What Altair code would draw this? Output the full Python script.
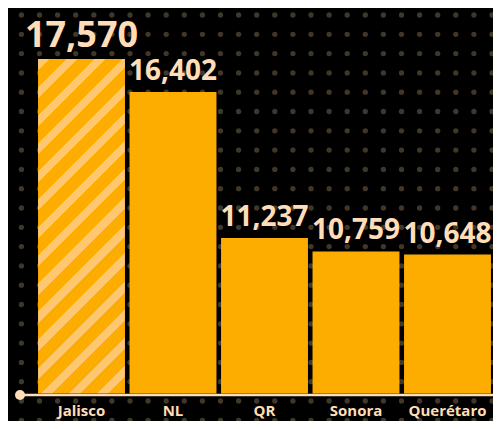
import altair as alt
import pandas as pd

states = ["Jalisco", "NL", "QR", "Sonora", "Querétaro"]
values = [17570, 16402, 11237, 10759, 10648]
highlight = ["Jalisco"]

df = pd.DataFrame({"state": states, "value": values})
df["label"] = df["value"].map(lambda v: f"{v:,}")

BG = "#000000"
BAR = "#FDAD00"
STRIPE = "#FFC870"
PEACH = "#FFDDB8"
DOT = "#413729"
FONT = "Open Sans"

W, H = 485, 413
BASE_Y = 386
BASE_VALUE = 5731  # value at which the bars sit on the baseline

xscale = alt.Scale(domain=states, range=[27.75, 485.25], paddingInner=0.05, paddingOuter=0.025)
yscale = alt.Scale(domain=[4758, 19377], zero=False, nice=False)

# diagonal stripes via hard-stop gradient
stops = []
n = 15
for i in range(n):
    a = i / n
    b = (i + 0.4) / n
    c = (i + 1) / n
    stops += [alt.GradientStop(offset=a, color=STRIPE), alt.GradientStop(offset=b, color=STRIPE),
              alt.GradientStop(offset=b, color=BAR), alt.GradientStop(offset=c, color=BAR)]
grad = alt.LinearGradient(gradient="linear", stops=stops, x1=0, y1=0, x2=0.3066, y2=1.18)

base = alt.Chart(df)

dots = alt.Chart(alt.sequence(0, 28 * 22, as_="i")).transform_calculate(
    col="datum.i % 28", row="floor(datum.i / 28)"
).mark_circle(size=28, color=DOT, opacity=1).encode(
    x=alt.X("col:Q", scale=alt.Scale(domain=[0.2597, 27.055], nice=False, zero=False), axis=None),
    y=alt.Y("row:Q", scale=alt.Scale(domain=[-0.3627, 21.036], nice=False, zero=False, reverse=True), axis=None),
)

bars = base.transform_filter(
    ~alt.FieldOneOfPredicate(field="state", oneOf=highlight)
).mark_bar(color=BAR).encode(
    x=alt.X("state:N", scale=xscale, axis=None, sort=states),
    y=alt.Y("value:Q", scale=yscale, axis=None),
    y2=alt.datum(BASE_VALUE),
)

hbar = base.transform_filter(
    alt.FieldOneOfPredicate(field="state", oneOf=highlight)
).mark_bar(fill=grad).encode(
    x=alt.X("state:N", scale=xscale, axis=None, sort=states),
    y=alt.Y("value:Q", scale=yscale, axis=None),
    y2=alt.datum(BASE_VALUE),
)

axis_line = alt.Chart(pd.DataFrame({"a": [0]})).mark_rule(color=PEACH, strokeWidth=2.5).encode(
    x=alt.value(12), x2=alt.value(W), y=alt.value(BASE_Y + 1)
)
axis_dot = alt.Chart(pd.DataFrame({"a": [0]})).mark_circle(color=PEACH, size=100, opacity=1).encode(
    x=alt.value(12), y=alt.value(BASE_Y + 1)
)

xlabels = base.mark_text(font=FONT, fontWeight="bold", fontSize=15, color=PEACH, baseline="middle").encode(
    x=alt.X("state:N", scale=xscale, axis=None, sort=states),
    y=alt.value(403),
    text="state:N",
)

vlabels = base.mark_text(font=FONT, fontWeight="bold", color=PEACH, baseline="alphabetic", dy=-12).encode(
    x=alt.X("state:N", scale=xscale, axis=None, sort=states),
    y=alt.Y("value:Q", scale=yscale, axis=None),
    text="label:N",
    size=alt.condition(alt.FieldOneOfPredicate(field="state", oneOf=highlight), alt.value(36), alt.value(28)),
)

chart = alt.layer(dots, bars, hbar, axis_line, axis_dot, xlabels, vlabels).resolve_scale(
    x="independent", y="independent"
).properties(
    width=W, height=H, padding=0, autosize=alt.AutoSizeParams(type="none"), background=BG
).configure_view(stroke=None, fill=BG)

chart.save("out.html", embed_options={"renderer": "svg", "actions": False})
